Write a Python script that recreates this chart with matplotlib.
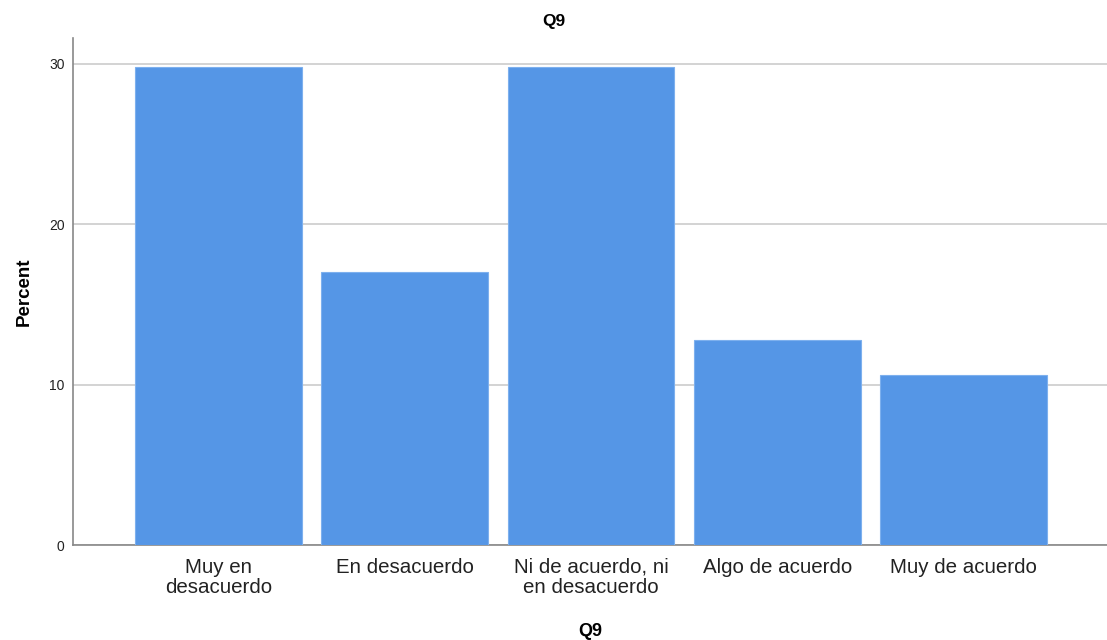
import matplotlib

matplotlib.use("Agg")
import matplotlib.pyplot as plt

categories = [
    "Muy en\ndesacuerdo",
    "En desacuerdo",
    "Ni de acuerdo, ni\nen desacuerdo",
    "Algo de acuerdo",
    "Muy de acuerdo",
]
percent = [29.8, 17.0, 29.8, 12.8, 10.6]
yticks = [0, 10, 20, 30]

plt.rcParams["font.family"] = ["Liberation Sans", "DejaVu Sans"]

fig = plt.figure(figsize=(11.07, 6.4), dpi=100)
ax = fig.add_axes([0.066, 0.1484, 0.934, 0.7922])

x = range(len(categories))
ax.bar(x, percent, width=0.895, color="#5596E6", edgecolor="#7DB0EE", linewidth=0.8, zorder=3)

ax.set_xlim(-0.78, 4.77)
ax.set_ylim(0, 31.6)
ax.set_yticks(yticks)
ax.set_yticklabels([str(t) for t in yticks], fontsize=10, color="#222222")
ax.set_xticks(list(x))
ax.set_xticklabels(categories, fontsize=14.8, color="#222222", linespacing=1.1)
ax.tick_params(axis="both", length=0)
ax.tick_params(axis="y", pad=6)
ax.tick_params(axis="x", pad=9)
ax.grid(axis="y", color="#cccccc", linewidth=1.2, zorder=0)

for side in ("top", "right"):
    ax.spines[side].set_visible(False)
for side in ("left", "bottom"):
    ax.spines[side].set_color("#888888")
    ax.spines[side].set_linewidth(1.2)

ax.set_ylabel("Percent", fontsize=13.5, fontweight="bold", labelpad=12)
ax.set_xlabel("Q9", fontsize=13, fontweight="bold", labelpad=19)
fig.text(0.500, 0.967, "Q9", ha="center", va="center", fontsize=12.5, fontweight="bold")

fig.savefig("out.png", dpi=100)
